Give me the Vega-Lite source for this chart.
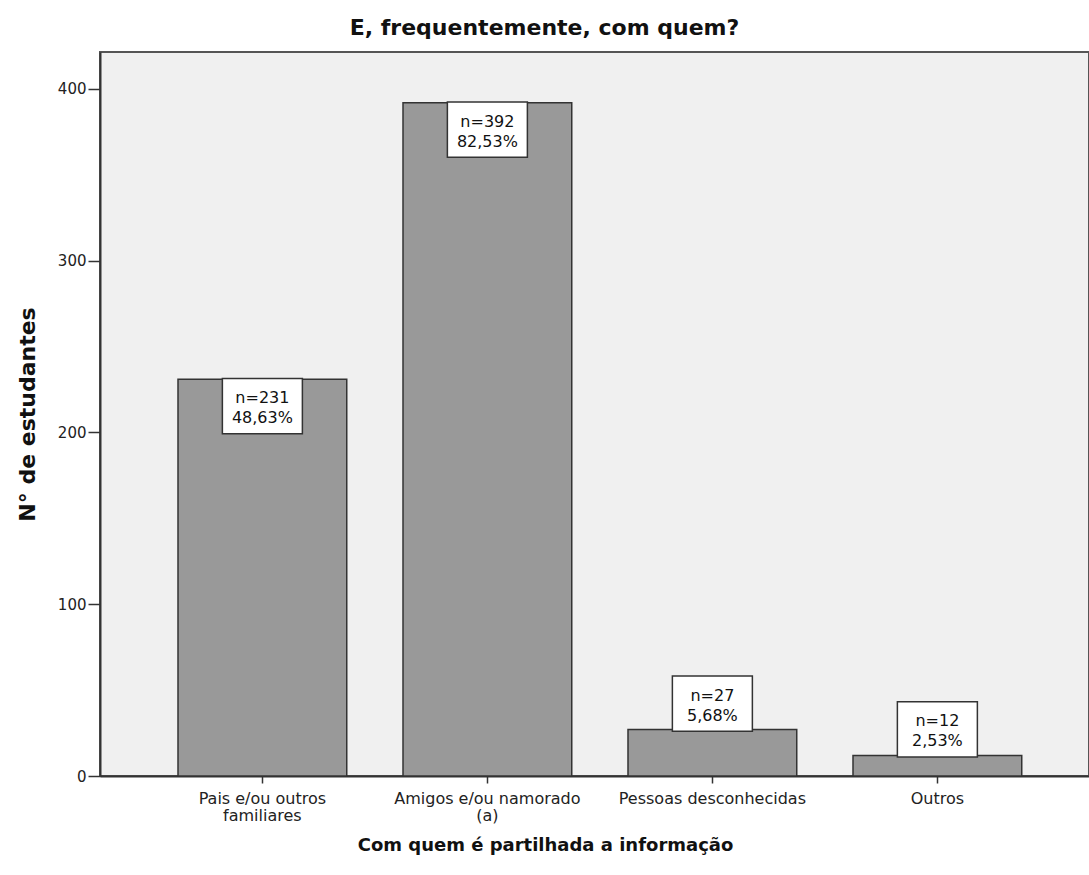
{
  "$schema": "https://vega.github.io/schema/vega-lite/v6.json",
  "autosize": "none",
  "padding": {"left": 100, "top": 52, "right": 0, "bottom": 99},
  "width": 989,
  "height": 724,
  "background": "white",
  "title": {
    "text": "E, frequentemente, com quem?",
    "font": "DejaVu Sans",
    "fontSize": 22,
    "fontWeight": "bold",
    "color": "#111",
    "anchor": "middle",
    "frame": "group",
    "dx": -50,
    "offset": 12
  },
  "data": {
    "values": [
      {"categoria": "Pais e/ou outros familiares", "estudantes": 231, "rotulo": "n=231\n48,63%"},
      {"categoria": "Amigos e/ou namorado (a)", "estudantes": 392, "rotulo": "n=392\n82,53%"},
      {"categoria": "Pessoas desconhecidas", "estudantes": 27, "rotulo": "n=27\n5,68%"},
      {"categoria": "Outros", "estudantes": 12, "rotulo": "n=12\n2,53%"}
    ]
  },
  "encoding": {
    "x": {
      "field": "categoria",
      "type": "nominal",
      "sort": null,
      "scale": {"paddingInner": 0.25, "paddingOuter": 0.3228, "align": 0.537},
      "axis": {
        "title": "Com quem é partilhada a informação",
        "titleFont": "DejaVu Sans",
        "titleFontSize": 18,
        "titleFontWeight": "bold",
        "titleColor": "#111",
        "titleX": 445,
        "titleY": 69,
        "titleBaseline": "middle",
        "labelAngle": 0,
        "labelFont": "DejaVu Sans",
        "labelFontSize": 16,
        "labelColor": "#222",
        "labelPadding": 7,
        "labelLimit": 400,
        "labelLineHeight": 17,
        "labelBaseline": "top",
        "labelExpr": "datum.label == 'Pais e/ou outros familiares' ? ['Pais e/ou outros', 'familiares'] : datum.label == 'Amigos e/ou namorado (a)' ? ['Amigos e/ou namorado', '(a)'] : datum.label",
        "tickSize": 7,
        "tickColor": "#333",
        "tickWidth": 1.5,
        "domainColor": "#333",
        "domainWidth": 2,
        "grid": false
      }
    },
    "y": {
      "field": "estudantes",
      "type": "quantitative",
      "scale": {"domain": [0, 421.5], "nice": false},
      "axis": {
        "title": "N° de estudantes",
        "titleFont": "DejaVu Sans",
        "titleFontSize": 22,
        "titleFontWeight": "bold",
        "titleColor": "#111",
        "titleX": -73,
        "titleBaseline": "middle",
        "values": [0, 100, 200, 300, 400],
        "labelFont": "DejaVu Sans",
        "labelFontSize": 15,
        "labelColor": "#222",
        "labelPadding": 2,
        "tickSize": 12,
        "tickColor": "#333",
        "tickWidth": 1.5,
        "domainColor": "#333",
        "domainWidth": 2,
        "grid": false
      }
    }
  },
  "layer": [
    {
      "mark": {"type": "bar", "fill": "#999999", "stroke": "#333333", "strokeWidth": 1.5}
    },
    {
      "transform": [{"filter": "datum.estudantes > 100"}],
      "mark": {"type": "point", "shape": "M-1,-0.69H1V0.69H-1Z", "size": 6400, "filled": true, "fill": "white", "stroke": "#333333", "strokeWidth": 1.5, "opacity": 1, "yOffset": 27}
    },
    {
      "transform": [{"filter": "datum.estudantes <= 100"}],
      "mark": {"type": "point", "shape": "M-1,-0.69H1V0.69H-1Z", "size": 6400, "filled": true, "fill": "white", "stroke": "#333333", "strokeWidth": 1.5, "opacity": 1, "yOffset": -26}
    },
    {
      "transform": [{"filter": "datum.estudantes > 100"}],
      "mark": {"type": "text", "font": "DejaVu Sans", "fontSize": 16, "color": "#111", "lineBreak": "\n", "lineHeight": 20, "baseline": "middle", "align": "center", "yOffset": 19},
      "encoding": {"text": {"field": "rotulo"}}
    },
    {
      "transform": [{"filter": "datum.estudantes <= 100"}],
      "mark": {"type": "text", "font": "DejaVu Sans", "fontSize": 16, "color": "#111", "lineBreak": "\n", "lineHeight": 20, "baseline": "middle", "align": "center", "yOffset": -34},
      "encoding": {"text": {"field": "rotulo"}}
    }
  ],
  "config": {
    "view": {"fill": "#f0f0f0", "stroke": "#555555", "strokeWidth": 2}
  }
}
